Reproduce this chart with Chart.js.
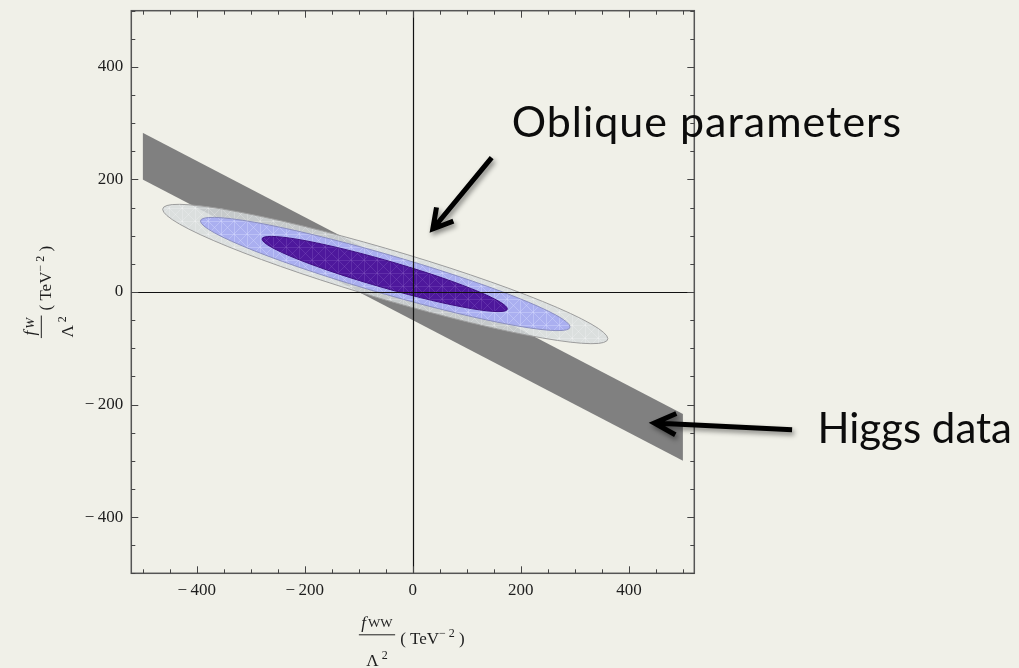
<!DOCTYPE html>
<html>
<head>
<meta charset="utf-8">
<script src="https://cdn.jsdelivr.net/npm/chart.js@4.4.1/dist/chart.umd.min.js"></script>
<style>
  html, body { margin: 0; padding: 0; background: #f0f0e8; }
  #wrap { position: relative; width: 1019px; height: 668px; }
</style>
</head>
<body>
<div id="wrap"><canvas id="fitChart"></canvas></div>
<script>
// Higgs data band: upper and lower edge at both ends of the scanned range
const bandX = [-500, 500];
const bandUpper = [283, -217];
const bandLower = [200, -300];

// Oblique parameter ellipses, outer to inner.
// centre (cx, cy), half width in x, y shift at the x extremes, half height at the centre
const ellipseCx = [-51, -51, -52];
const ellipseCy = [32, 32, 32];
const ellipseHalfX = [412, 342, 227];
const ellipseTiltY = [-115, -94, -62];
const ellipseHalfY = [46, 36, 25];

const xTickValues = [-400, -200, 0, 200, 400];
const yTickValues = [-400, -200, 0, 200, 400];

const ellipseStyles = [
  { fill: 'rgba(214,219,220,0.82)', stroke: '#9c9c9c', mesh: 'rgba(255,255,255,0.22)' },
  { fill: '#aaaff0', stroke: '#8b8fbf', mesh: 'rgba(215,220,255,0.4)' },
  { fill: '#4e189c', stroke: '#3d0f80', mesh: 'rgba(140,100,200,0.3)' }
];

const serif = '"Liberation Serif", "Times New Roman", serif';

function meshPattern(ctx, color) {
  const c = document.createElement('canvas');
  c.width = 13; c.height = 13;
  const g = c.getContext('2d');
  g.strokeStyle = color;
  g.lineWidth = 1;
  g.beginPath();
  g.moveTo(0, 0.5); g.lineTo(13, 0.5);
  g.moveTo(0.5, 0); g.lineTo(0.5, 13);
  g.moveTo(0, 13); g.lineTo(13, 0);
  g.moveTo(0, 0); g.lineTo(13, 13);
  g.stroke();
  return ctx.createPattern(c, 'repeat');
}

function arrow(ctx, x1, y1, x2, y2, head, spread) {
  const ang = Math.atan2(y2 - y1, x2 - x1);
  ctx.beginPath();
  ctx.moveTo(x1, y1);
  ctx.lineTo(x2, y2);
  ctx.moveTo(x2 - head * Math.cos(ang - spread), y2 - head * Math.sin(ang - spread));
  ctx.lineTo(x2, y2);
  ctx.lineTo(x2 - head * Math.cos(ang + spread), y2 - head * Math.sin(ang + spread));
  ctx.stroke();
}

// fraction f_sub / Λ² followed by ( TeV^-2 ), centred on (ox, oy)
function axisTitle(ctx, ox, oy, rotated, sub, subItalic) {
  ctx.save();
  ctx.translate(ox, oy);
  if (rotated) ctx.rotate(-Math.PI / 2);
  ctx.fillStyle = '#1e1e1e';
  ctx.strokeStyle = '#1e1e1e';
  ctx.textBaseline = 'alphabetic';
  ctx.textAlign = 'left';

  const fFont = 'italic 17px ' + serif;
  const subFont = (subItalic ? 'italic ' : '') + '13px ' + serif;
  const mainFont = '17px ' + serif;
  const supFont = '12px ' + serif;

  ctx.font = fFont; const fw = ctx.measureText('f').width;
  ctx.font = subFont; const sw = ctx.measureText(sub).width;
  const numW = fw + 2 + sw;
  const barW = numW + 5;
  ctx.font = mainFont;
  const pa = ctx.measureText('( TeV').width;
  const pc = ctx.measureText(' )').width;
  ctx.font = supFont;
  const pb = ctx.measureText('\u2212 2').width;
  const parenW = pa + pb + pc;
  const gap = 5;
  const total = barW + gap + parenW;
  const x0 = -total / 2;

  // numerator
  const nx = x0 + (barW - numW) / 2;
  ctx.font = fFont; ctx.fillText('f', nx, -6);
  ctx.font = subFont; ctx.fillText(sub, nx + fw + 2, -7);
  // bar
  ctx.lineWidth = 1;
  ctx.beginPath();
  ctx.moveTo(x0, 0.5); ctx.lineTo(x0 + barW, 0.5);
  ctx.stroke();
  // denominator
  ctx.font = mainFont;
  const lw = ctx.measureText('\u039B').width;
  ctx.font = supFont;
  const tw = ctx.measureText('2').width;
  const dx = x0 + (barW - (lw + 3 + tw)) / 2;
  ctx.font = mainFont; ctx.fillText('\u039B', dx, 32);
  ctx.font = supFont; ctx.fillText('2', dx + lw + 3, 25);
  // units
  let px = x0 + barW + gap;
  ctx.font = mainFont; ctx.fillText('( TeV', px, 10);
  px += pa;
  ctx.font = supFont; ctx.fillText('\u2212 2', px, 3);
  px += pb;
  ctx.font = mainFont; ctx.fillText(' )', px, 10);
  ctx.restore();
}

const overlay = {
  id: 'overlay',
  afterDatasetsDraw(chart) {
    const { ctx, chartArea: a, scales: { x, y } } = chart;
    const sx = x.getPixelForValue(1) - x.getPixelForValue(0);
    const sy = y.getPixelForValue(0) - y.getPixelForValue(1);

    ctx.save();
    ctx.beginPath();
    ctx.rect(a.left, a.top, a.width, a.height);
    ctx.clip();

    ellipseCx.forEach((cx, i) => {
      const st = ellipseStyles[i];
      ctx.save();
      ctx.beginPath();
      ctx.transform(sx * ellipseHalfX[i], -sy * ellipseTiltY[i], 0, -sy * ellipseHalfY[i],
        x.getPixelForValue(cx), y.getPixelForValue(ellipseCy[i]));
      ctx.arc(0, 0, 1, 0, Math.PI * 2);
      ctx.restore();
      ctx.fillStyle = st.fill;
      ctx.fill();
      ctx.fillStyle = meshPattern(ctx, st.mesh);
      ctx.fill();
      ctx.lineWidth = 1;
      ctx.strokeStyle = st.stroke;
      ctx.stroke();
    });

    // coordinate axes through the origin
    const x0 = Math.round(x.getPixelForValue(0)) + 0.5;
    const y0 = Math.round(y.getPixelForValue(0)) + 0.5;
    ctx.strokeStyle = '#111';
    ctx.lineWidth = 1.2;
    ctx.beginPath();
    ctx.moveTo(x0, a.top); ctx.lineTo(x0, a.bottom);
    ctx.moveTo(a.left, y0); ctx.lineTo(a.right, y0);
    ctx.stroke();
    ctx.restore();
  },
  afterDraw(chart) {
    const { ctx, chartArea: a, scales: { x, y } } = chart;
    ctx.save();

    // frame with inward ticks on all four sides
    ctx.strokeStyle = '#555';
    ctx.lineWidth = 1.5;
    ctx.strokeRect(a.left, a.top, a.width, a.height);
    ctx.lineWidth = 1;
    ctx.strokeStyle = '#444';
    ctx.beginPath();
    for (let v = -500; v <= 500; v += 50) {
      const len = v % 200 === 0 ? 7 : 4;
      const px = Math.round(x.getPixelForValue(v)) + 0.5;
      ctx.moveTo(px, a.bottom); ctx.lineTo(px, a.bottom - len);
      ctx.moveTo(px, a.top); ctx.lineTo(px, a.top + len);
      const py = Math.round(y.getPixelForValue(v)) + 0.5;
      ctx.moveTo(a.left, py); ctx.lineTo(a.left + len, py);
      ctx.moveTo(a.right, py); ctx.lineTo(a.right - len, py);
    }
    ctx.stroke();

    // axis titles
    const cxm = (a.left + a.right) / 2;
    const cym = (a.top + a.bottom) / 2;
    axisTitle(ctx, cxm - 1, a.bottom + 61, false, 'WW', false);
    axisTitle(ctx, a.left - 90.5, cym, true, 'W', true);

    // annotations
    ctx.shadowColor = 'rgba(0,0,0,0.45)';
    ctx.shadowBlur = 5;
    ctx.shadowOffsetX = 2;
    ctx.shadowOffsetY = 3;
    ctx.strokeStyle = '#000';
    ctx.lineWidth = 5;
    ctx.lineCap = 'butt';
    ctx.lineJoin = 'miter';
    arrow(ctx, x.getPixelForValue(146), y.getPixelForValue(239),
      x.getPixelForValue(37), y.getPixelForValue(112), 22, 0.52);
    arrow(ctx, x.getPixelForValue(702), y.getPixelForValue(-245),
      x.getPixelForValue(447), y.getPixelForValue(-233), 24, 0.46);
    ctx.shadowColor = 'transparent';

    ctx.fillStyle = '#0c0c0c';
    ctx.textBaseline = 'alphabetic';
    ctx.textAlign = 'left';
    ctx.font = '43px Lato, "Open Sans", sans-serif';
    ctx.letterSpacing = '1px';
    ctx.fillText('Oblique parameters', x.getPixelForValue(183), y.getPixelForValue(276));
    ctx.font = '42px Lato, "Open Sans", sans-serif';
    ctx.letterSpacing = '0px';
    ctx.fillText('Higgs data', x.getPixelForValue(749), y.getPixelForValue(-268));
    ctx.restore();
  }
};

new Chart(document.getElementById('fitChart'), {
  type: 'line',
  data: {
    datasets: [
      {
        data: bandX.map((v, i) => ({ x: v, y: bandUpper[i] })),
        fill: '+1',
        backgroundColor: '#808080',
        borderColor: '#808080',
        borderWidth: 0,
        pointRadius: 0
      },
      {
        data: bandX.map((v, i) => ({ x: v, y: bandLower[i] })),
        fill: false,
        borderColor: '#808080',
        borderWidth: 0,
        pointRadius: 0
      }
    ]
  },
  options: {
    responsive: true,
    maintainAspectRatio: false,
    animation: false,
    layout: { padding: { top: 10.7, right: 324.7, bottom: 0, left: 0 } },
    plugins: { legend: { display: false }, tooltip: { enabled: false } },
    scales: {
      x: {
        type: 'linear',
        min: -521,
        max: 521,
        grid: { display: false, drawTicks: false },
        border: { display: false },
        afterBuildTicks: s => { s.ticks = xTickValues.map(v => ({ value: v })); },
        afterFit: s => { s.height = 94.7; s.paddingLeft = 0; s.paddingRight = 0; },
        ticks: {
          padding: 7,
          color: '#1e1e1e',
          font: { family: serif, size: 17 },
          maxRotation: 0,
          callback: v => v < 0 ? '\u2212\u2009' + Math.abs(v) : String(v)
        }
      },
      y: {
        type: 'linear',
        min: -500,
        max: 500,
        grid: { display: false, drawTicks: false },
        border: { display: false },
        afterBuildTicks: s => { s.ticks = yTickValues.map(v => ({ value: v })); },
        afterFit: s => { s.width = 131.3; s.paddingTop = 0; s.paddingBottom = 0; },
        ticks: {
          padding: 8,
          color: '#1e1e1e',
          font: { family: serif, size: 17 },
          callback: v => v < 0 ? '\u2212\u2009' + Math.abs(v) : String(v)
        }
      }
    }
  },
  plugins: [overlay]
});
</script>
</body>
</html>
